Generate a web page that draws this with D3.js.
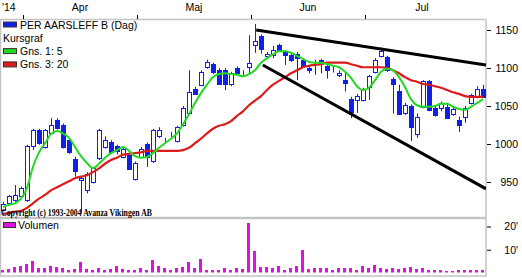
<!DOCTYPE html>
<html>
<head>
<meta charset="utf-8">
<script src="https://cdn.jsdelivr.net/npm/d3@7"></script>
<style>
  body { margin: 0; background: #fff; }
  text { font-family: "Liberation Sans", Arial, sans-serif; }
</style>
</head>
<body>
<script>
// --- Data ---
const opens  = [913,922,926,931,926,997,1018,996,1015,1032,1025,1005,980,952,940,950,981,996,1003,997,983,986,954,983,1000,977,1010,1004,1013,1004,1025,1040,1073,1078,1101,1105,1098,1098,1078,1100,1094,1101,1130,1142,1116,1117,1130,1121,1117,1119,1110,1100,1103,1111,1102,1100,1091,1084,1059,1058,1058,1075,1095,1116,1114,1086,1070,1040,1050,1014,1049,1083,1047,1047,1049,1040,1032,1036,1054,1062,1073];
const highs  = [924,933,946,944,999,1020,1020,1020,1034,1034,1027,1007,983,958,963,970,1020,1010,1005,999,996,988,977,996,1002,1020,1022,1008,1016,1024,1050,1097,1075,1097,1111,1107,1100,1100,1095,1102,1097,1143,1158,1144,1121,1129,1132,1123,1119,1121,1112,1104,1111,1112,1104,1104,1097,1093,1062,1066,1074,1091,1113,1127,1116,1088,1078,1054,1052,1040,1084,1084,1050,1056,1054,1049,1036,1050,1066,1076,1078];
const lows   = [911,920,924,929,924,992,999,994,1013,1019,994,987,957,909,935,948,979,994,988,986,981,966,952,981,970,975,1008,1002,1009,1002,1023,1038,1065,1076,1099,1092,1078,1071,1076,1092,1090,1093,1120,1119,1112,1113,1122,1104,1108,1084,1100,1093,1091,1093,1086,1094,1088,1069,1034,1041,1056,1058,1093,1114,1095,1040,1038,1038,1004,1008,1047,1043,1036,1043,1033,1037,1016,1028,1052,1060,1061];
const closes = [921,931,933,942,997,1018,1001,1018,1025,1021,996,989,964,955,961,968,1018,1005,990,990,994,968,975,994,983,1018,1018,1004,1013,1022,1048,1068,1067,1095,1108,1094,1080,1080,1093,1094,1094,1106,1135,1125,1118,1124,1124,1117,1110,1114,1102,1097,1103,1107,1097,1100,1094,1080,1042,1063,1072,1089,1111,1123,1097,1080,1040,1051,1022,1036,1083,1045,1038,1054,1035,1046,1026,1048,1064,1073,1063];
const gns5   = [917,920,922,928,942,970,989,1001,1013,1017,1014,1008,996,984,975,968,974,982,988,992,996,991,984,982,983,988,995,1001,1007,1014,1026,1039,1054,1067,1078,1088,1092,1093,1092,1091,1089,1092,1097,1107,1113,1118,1122,1122,1120,1116,1112,1108,1107,1107,1105,1103,1101,1095,1087,1076,1071,1074,1084,1095,1099,1097,1088,1075,1059,1051,1049,1049,1050,1053,1053,1049,1046,1045,1049,1054,1059];
const gns20  = [908,909,911,912,916,922,928,933,939,943,947,951,955,957,959,963,968,974,979,982,986,987,988,989,991,991,991,991,991,991,992,995,1001,1007,1014,1020,1024,1026,1030,1037,1043,1051,1057,1063,1071,1078,1083,1088,1093,1097,1101,1103,1104,1105,1107,1107,1107,1107,1105,1103,1101,1101,1101,1101,1100,1097,1093,1088,1084,1082,1079,1078,1076,1074,1071,1068,1066,1063,1062,1062,1062];
const volumes = [1.5,1.8,2.5,2.9,3.9,5.3,2.2,2.2,2.9,2.6,2.3,1.5,1.8,4.6,1.8,1.5,2.0,1.2,1.8,3.2,1.8,1.5,1.1,2.2,1.5,5.5,3.2,2.0,1.5,2.0,2.6,4.6,2.3,6.2,1.5,1.5,1.5,2.2,1.5,2.2,1.8,21.6,9.3,2.6,2.5,2.2,2.9,1.5,2.0,2.9,9.7,1.8,2.2,2.2,2.0,1.5,2.1,2.2,2.0,1.2,3.2,2.2,3.3,2.0,1.8,2.0,1.8,2.0,2.5,1.8,2.0,1.5,1.5,1.2,0.8,0.9,1.5,1.5,1.2,1.2,1.5];

// month starts (candle index) and labels
const monthNames = ["Apr", "Maj", "Jun", "Jul"];
const monthStarts = [4, 23, 42, 61];
const yearLabel = "'14";

// trend lines drawn by hand on the chart (index, price)
const upperTrend = [[42.2, 1150], [80.5, 1104]];
const lowerTrend = [[43.3, 1104], [80.5, 941]];

const priceTicks = [950, 1000, 1050, 1100, 1150];
const volTicks = [10, 20];

const candles = opens.map((o, i) => ({ i: i, o: o, h: highs[i], l: lows[i], c: closes[i] }));

// --- SVG Setup ---
const width = 522, height = 278;
const panel = { left: 0, right: 486, top: 19.5, bottom: 217.5 };
const vpanel = { top: 218.5, bottom: 276 };

const svg = d3.select("body").append("svg")
    .attr("width", width)
    .attr("height", height);

const blue = "#1020e6", green = "#22d822", red = "#dc1c1c", magenta = "#e010e0";

// Scales
const x = d3.scaleLinear().domain([0, 80]).range([3, 483]);
const y = d3.scaleLinear().domain([950, 1150]).range([182, 30]);
const yv = d3.scaleLinear().domain([0, 20]).range([273, 226.5]);

svg.append("defs").append("clipPath").attr("id", "clipMain")
    .append("rect")
    .attr("x", panel.left).attr("y", panel.top)
    .attr("width", panel.right - panel.left).attr("height", panel.bottom - panel.top);

// Panel frames
svg.append("rect")
    .attr("x", 0.5).attr("y", panel.top)
    .attr("width", panel.right - 0.5).attr("height", panel.bottom - panel.top)
    .attr("fill", "none").attr("stroke", "#c4c4c4").attr("stroke-width", 1.5);
svg.append("rect")
    .attr("x", 0.5).attr("y", vpanel.top)
    .attr("width", panel.right - 0.5).attr("height", vpanel.bottom - vpanel.top)
    .attr("fill", "none").attr("stroke", "#c4c4c4").attr("stroke-width", 1.5);

// Month axis on top
svg.selectAll(".mtick")
    .data(monthStarts)
    .enter().append("line")
    .attr("class", "mtick")
    .attr("x1", d => Math.round(x(d - 0.5)) - 0.5)
    .attr("x2", d => Math.round(x(d - 0.5)) - 0.5)
    .attr("y1", 15).attr("y2", 19)
    .attr("stroke", "#000");

svg.selectAll(".mlabel")
    .data(monthNames)
    .enter().append("text")
    .attr("class", "mlabel")
    .attr("x", (d, k) => {
        const a = monthStarts[k] - 0.5;
        const b = k < monthStarts.length - 1 ? monthStarts[k + 1] - 0.5 : 79.5;
        return x((a + b) / 2) - 1;
    })
    .attr("y", 11)
    .attr("text-anchor", "middle")
    .style("font-size", "10.5px")
    .text(d => d);

svg.append("text")
    .attr("x", 2).attr("y", 11)
    .style("font-size", "10.5px")
    .text(yearLabel);

// Right price axis
const yAxis = svg.append("g")
    .attr("transform", `translate(${panel.right}, 0)`)
    .call(d3.axisRight(y).tickValues(priceTicks).tickSize(4).tickFormat(d3.format("d")));
yAxis.select(".domain").remove();
yAxis.selectAll("line").attr("transform", "translate(1,0)");
yAxis.selectAll("text")
    .attr("x", 32)
    .attr("text-anchor", "end")
    .style("font-size", "10.5px")
    .style("font-family", "'Liberation Sans', Arial, sans-serif");

// Right volume axis
const vAxis = svg.append("g")
    .attr("transform", `translate(${panel.right}, 0)`)
    .call(d3.axisRight(yv).tickValues(volTicks).tickSize(4).tickFormat(d => d + "'"));
vAxis.select(".domain").remove();
vAxis.selectAll("line").attr("transform", "translate(1,0)");
vAxis.selectAll("text")
    .attr("x", 32)
    .attr("text-anchor", "end")
    .style("font-size", "10.5px")
    .style("font-family", "'Liberation Sans', Arial, sans-serif");

// Main plot content
const plot = svg.append("g").attr("clip-path", "url(#clipMain)");

// Candles
const cg = plot.selectAll(".candle")
    .data(candles)
    .enter().append("g")
    .attr("class", "candle");

cg.append("line")
    .attr("x1", d => Math.round(x(d.i)) + 0.5)
    .attr("x2", d => Math.round(x(d.i)) + 0.5)
    .attr("y1", d => y(d.h))
    .attr("y2", d => y(d.l))
    .attr("stroke", blue);

cg.append("rect")
    .attr("x", d => Math.round(x(d.i)) - 1.5)
    .attr("y", d => Math.round(y(Math.max(d.o, d.c))) + 0.5)
    .attr("width", 4)
    .attr("height", d => Math.max(0, Math.round(Math.abs(y(d.o) - y(d.c)))))
    .attr("fill", d => d.c >= d.o ? "#fff" : blue)
    .attr("stroke", blue);

// Moving averages
const line = d3.line()
    .x((d, i) => x(i))
    .y(d => y(d))
    .curve(d3.curveMonotoneX);

plot.append("path")
    .datum(gns20)
    .attr("d", line)
    .attr("fill", "none")
    .attr("stroke", red)
    .attr("stroke-width", 2.2);

plot.append("path")
    .datum(gns5)
    .attr("d", line)
    .attr("fill", "none")
    .attr("stroke", green)
    .attr("stroke-width", 2);

// Trend lines
const tline = d3.line().x(d => x(d[0])).y(d => y(d[1]));
plot.selectAll(".trend")
    .data([upperTrend, lowerTrend])
    .enter().append("path")
    .attr("class", "trend")
    .attr("d", tline)
    .attr("fill", "none")
    .attr("stroke", "#000")
    .attr("stroke-width", 3);

// Copyright note
svg.append("text")
    .attr("x", 1).attr("y", 215.5)
    .attr("textLength", 151)
    .attr("lengthAdjust", "spacingAndGlyphs")
    .style("font-family", "'Liberation Serif', 'Times New Roman', serif")
    .style("font-size", "9.5px")
    .style("font-weight", "bold")
    .text("Copyright (c) 1993-2004 Avanza Vikingen AB");

// Legend
const legendItems = [
    { label: "PER AARSLEFF B (Dag)", color: blue, row: 0 },
    { label: "Kursgraf", color: null, row: 1 },
    { label: "Gns. 1: 5", color: green, row: 2 },
    { label: "Gns. 3: 20", color: red, row: 3 }
];
const legend = svg.append("g").attr("class", "legend");
legendItems.forEach(item => {
    const yy = 28.5 + item.row * 13.3;
    if (item.color) {
        legend.append("rect")
            .attr("x", 3.5).attr("y", yy - 6.5)
            .attr("width", 13).attr("height", 5)
            .attr("fill", item.color)
            .attr("stroke", "#333");
    }
    legend.append("text")
        .attr("x", item.color ? 20 : 3)
        .attr("y", yy)
        .style("font-size", "10.5px")
        .text(item.label);
});

// Volume bars
svg.selectAll(".vol")
    .data(volumes)
    .enter().append("rect")
    .attr("class", "vol")
    .attr("x", (d, i) => Math.round(x(i)) - 2)
    .attr("y", d => Math.round(yv(d)))
    .attr("width", 3)
    .attr("height", d => 272.5 - Math.round(yv(d)))
    .attr("fill", magenta);

svg.append("rect")
    .attr("x", 3.5).attr("y", 222.5)
    .attr("width", 12).attr("height", 5)
    .attr("fill", magenta)
    .attr("stroke", "#333");
svg.append("text")
    .attr("x", 18).attr("y", 229)
    .style("font-size", "10.5px")
    .text("Volumen");
</script>
</body>
</html>
